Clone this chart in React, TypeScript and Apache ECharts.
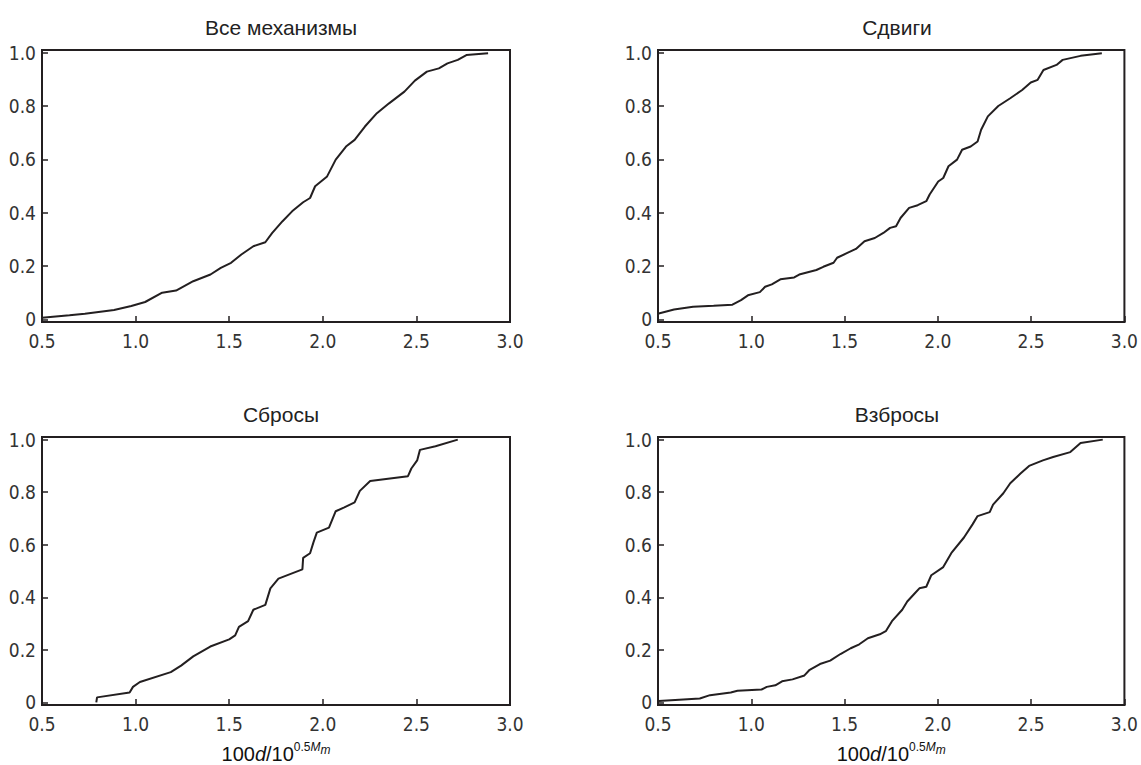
import React, { useEffect, useRef } from "react";
import * as echarts from "echarts";

// ---- Data ----
const titles = ["Все механизмы", "Сдвиги", "Сбросы", "Взбросы"];
const xTicks = [0.5, 1.0, 1.5, 2.0, 2.5, 3.0];
const yTicks = [0, 0.2, 0.4, 0.6, 0.8, 1.0];

const allX = [0.5, 0.647, 0.729, 0.885, 0.977, 1.051, 1.142, 1.216, 1.308, 1.4, 1.455, 1.51, 1.565, 1.629, 1.693, 1.73, 1.785, 1.836, 1.895, 1.932, 1.959, 2.023, 2.069, 2.124, 2.17, 2.225, 2.289, 2.354, 2.436, 2.492, 2.556, 2.62, 2.666, 2.721, 2.767, 2.883];
const allY = [0.006, 0.015, 0.021, 0.035, 0.05, 0.065, 0.1, 0.108, 0.143, 0.168, 0.193, 0.212, 0.243, 0.274, 0.289, 0.324, 0.368, 0.405, 0.439, 0.455, 0.499, 0.536, 0.599, 0.648, 0.673, 0.723, 0.773, 0.81, 0.854, 0.895, 0.929, 0.941, 0.96, 0.973, 0.991, 0.998];

const strikeX = [0.504, 0.586, 0.688, 0.798, 0.899, 0.945, 0.982, 1.046, 1.074, 1.11, 1.156, 1.23, 1.257, 1.349, 1.386, 1.441, 1.46, 1.515, 1.561, 1.607, 1.662, 1.708, 1.744, 1.776, 1.8, 1.846, 1.892, 1.938, 1.956, 2.002, 2.029, 2.057, 2.103, 2.13, 2.176, 2.213, 2.232, 2.268, 2.324, 2.388, 2.452, 2.498, 2.535, 2.566, 2.636, 2.669, 2.765, 2.879];
const strikeY = [0.022, 0.037, 0.047, 0.051, 0.055, 0.072, 0.09, 0.102, 0.122, 0.131, 0.15, 0.157, 0.168, 0.185, 0.197, 0.212, 0.231, 0.249, 0.264, 0.293, 0.305, 0.324, 0.343, 0.349, 0.38, 0.418, 0.428, 0.443, 0.468, 0.517, 0.53, 0.574, 0.599, 0.636, 0.648, 0.667, 0.711, 0.761, 0.8, 0.829, 0.86, 0.888, 0.898, 0.935, 0.954, 0.973, 0.988, 0.998];

const normalX = [0.79, 0.794, 0.968, 0.986, 1.023, 1.188, 1.243, 1.308, 1.399, 1.5, 1.532, 1.552, 1.601, 1.629, 1.693, 1.72, 1.763, 1.891, 1.895, 1.932, 1.95, 1.968, 2.033, 2.069, 2.115, 2.17, 2.198, 2.253, 2.455, 2.473, 2.504, 2.519, 2.602, 2.721];
const normalY = [0.0, 0.019, 0.0375, 0.059, 0.0775, 0.115, 0.14, 0.175, 0.2125, 0.24, 0.255, 0.2875, 0.309, 0.3525, 0.371, 0.434, 0.471, 0.506, 0.55, 0.5675, 0.609, 0.646, 0.665, 0.7275, 0.7425, 0.761, 0.805, 0.8425, 0.861, 0.89, 0.921, 0.961, 0.975, 1.0];

const reverseX = [0.504, 0.614, 0.724, 0.779, 0.89, 0.926, 1.055, 1.083, 1.129, 1.165, 1.221, 1.285, 1.313, 1.368, 1.423, 1.478, 1.533, 1.579, 1.625, 1.689, 1.721, 1.754, 1.809, 1.836, 1.873, 1.901, 1.938, 1.965, 2.029, 2.075, 2.14, 2.186, 2.213, 2.278, 2.296, 2.351, 2.388, 2.443, 2.489, 2.563, 2.618, 2.71, 2.765, 2.884];
const reverseY = [0.005, 0.01, 0.015, 0.0275, 0.0375, 0.044, 0.049, 0.059, 0.065, 0.08, 0.0875, 0.1025, 0.124, 0.146, 0.159, 0.184, 0.206, 0.221, 0.244, 0.259, 0.271, 0.309, 0.3525, 0.384, 0.4125, 0.434, 0.44, 0.484, 0.515, 0.571, 0.6275, 0.6775, 0.709, 0.724, 0.7525, 0.796, 0.834, 0.871, 0.9, 0.921, 0.934, 0.9525, 0.9875, 1.0];

const seriesX = [allX, strikeX, normalX, reverseX];
const seriesY = [allY, strikeY, normalY, reverseY];

const INK = "#231f20";
const LABEL_FONT = "'Liberation Sans Narrow', 'Arial Narrow', 'DejaVu Sans Condensed', sans-serif";
const TITLE_FONT = "'Liberation Sans', Arial, sans-serif";

const grids = [
  { left: 42, top: 50, width: 468, height: 272 },
  { left: 658, top: 50, width: 468, height: 272 },
  { left: 42, top: 437, width: 468, height: 273 },
  { left: 658, top: 437, width: 468, height: 273 },
];

export default function App() {
  const ref = useRef<HTMLDivElement>(null);

  useEffect(() => {
    if (!ref.current) return;
    const chart = echarts.init(ref.current, null, { renderer: "svg" });

    const option: any = {
      animation: false,
      backgroundColor: "#ffffff",
      title: grids.map((g, i) => ({
        text: titles[i],
        left: g.left + g.width / 2,
        top: i < 2 ? 12 : 399,
        textAlign: "center",
        textStyle: {
          fontFamily: TITLE_FONT,
          fontSize: 21,
          fontWeight: "normal",
          color: "#222",
        },
      })),
      grid: grids.map((g) => ({
        ...g,
        show: true,
        borderColor: INK,
        borderWidth: 2,
        backgroundColor: "transparent",
        containLabel: false,
      })),
      xAxis: grids.map((g, i) => ({
        type: "value",
        gridIndex: i,
        min: xTicks[0],
        max: xTicks[xTicks.length - 1],
        interval: 0.5,
        axisLine: { show: true, onZero: false, lineStyle: { color: INK, width: 2 } },
        axisTick: { show: true, inside: true, length: 6, lineStyle: { color: INK, width: 1.5 } },
        splitLine: { show: false },
        axisLabel: {
          margin: 9,
          fontFamily: LABEL_FONT,
          fontSize: 19,
          color: "#333",
          formatter: (v: number) => v.toFixed(1),
          showMinLabel: true,
          showMaxLabel: true,
        },
        name: i >= 2 ? "{n|100}{i|d}{n|/10}{s|0.5}{si|M}{ss|m}" : "",
        nameLocation: "middle",
        nameGap: 36,
        nameTextStyle: {
          fontFamily: TITLE_FONT,
          color: "#111",
          rich: {
            n: { fontSize: 20, fontFamily: TITLE_FONT, color: "#111", verticalAlign: "bottom" },
            i: { fontSize: 20, fontFamily: TITLE_FONT, fontStyle: "italic", color: "#111", verticalAlign: "bottom" },
            s: { fontSize: 12, fontFamily: TITLE_FONT, color: "#111", verticalAlign: "bottom", padding: [0, 0, 11, 0] },
            si: { fontSize: 12, fontFamily: TITLE_FONT, fontStyle: "italic", color: "#111", verticalAlign: "bottom", padding: [0, 0, 11, 0] },
            ss: { fontSize: 12, fontFamily: TITLE_FONT, fontStyle: "italic", color: "#111", verticalAlign: "bottom", padding: [0, 0, 8, 0] },
          },
        },
      })),
      yAxis: grids.map((g, i) => ({
        type: "value",
        gridIndex: i,
        min: -0.01,
        max: 1.01,
        axisLine: { show: true, onZero: false, lineStyle: { color: INK, width: 2 } },
        axisTick: {
          show: true,
          inside: true,
          length: 6,
          customValues: yTicks,
          lineStyle: { color: INK, width: 1.5 },
        },
        splitLine: { show: false },
        axisLabel: {
          margin: 6,
          customValues: yTicks,
          fontFamily: LABEL_FONT,
          fontSize: 19,
          color: "#333",
          formatter: (v: number) => (Math.abs(v) < 1e-9 ? "0" : v.toFixed(1)),
        },
      })),
      series: seriesX.map((xs, i) => ({
        type: "line",
        xAxisIndex: i,
        yAxisIndex: i,
        showSymbol: false,
        symbol: "none",
        smooth: false,
        lineStyle: { color: INK, width: 2 },
        data: xs.map((x, k) => [x, seriesY[i][k]]),
      })),
    };

    chart.setOption(option);
    return () => chart.dispose();
  }, []);

  return (
    <div
      ref={ref}
      style={{ position: "fixed", left: 0, top: 0, width: 1141, height: 765 }}
    />
  );
}
